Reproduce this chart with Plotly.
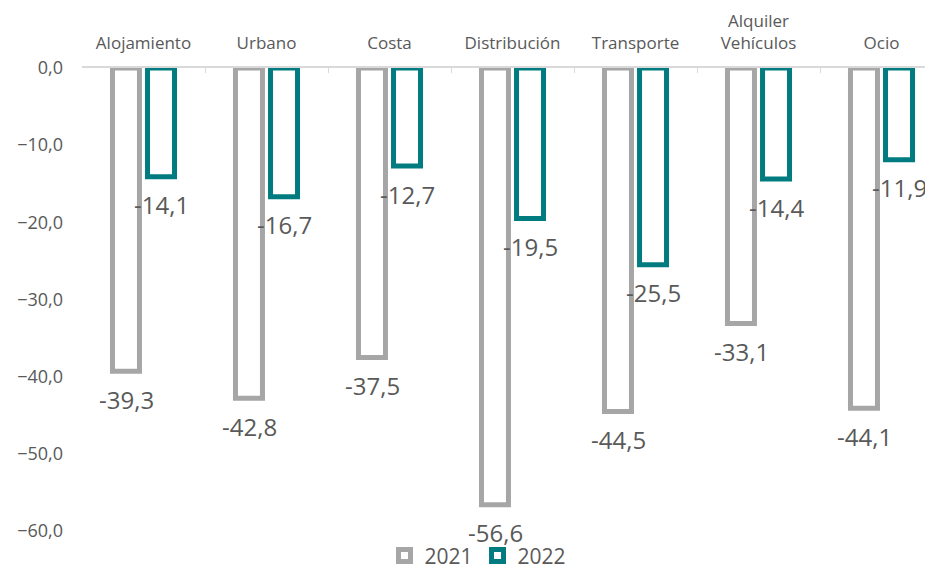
import plotly.graph_objects as go

categories = ["Alojamiento", "Urbano", "Costa", "Distribución", "Transporte", "Alquiler<br>Vehículos", "Ocio"]
values_2021 = [-39.3, -42.8, -37.5, -56.6, -44.5, -33.1, -44.1]
values_2022 = [-14.1, -16.7, -12.7, -19.5, -25.5, -14.4, -11.9]
y_ticks = [0, -10, -20, -30, -40, -50, -60]

GRAY = "#A6A6A6"
TEAL = "#007C80"
TXT = "#595959"
FONT = "Open Sans"

W, H = 933, 573
OFF = 8  # page body margin
left, top, bottom = 82 - OFF, 67.7 - OFF, 41.5 + OFF
right_edge = 943 - OFF  # plot area extends past the figure edge
cat_px = (right_edge - left) / 7
plot_h = H - top - bottom

fig = go.Figure()
series = [("2021", values_2021, GRAY, -17.5), ("2022", values_2022, TEAL, 17.5)]
for name, vals, col, dx in series:
    fig.add_trace(go.Bar(
        x=categories, y=vals, name=name,
        marker=dict(color="white", line=dict(color=col, width=5)),
        cliponaxis=False,
    ))
    for c, v in zip(categories, vals):
        fig.add_annotation(
            x=c, y=v, text=f"{v:.1f}".replace(".", ","),
            xshift=dx, yshift=-28, showarrow=False,
            xanchor="center", yanchor="middle",
            font=dict(size=24, color=TXT, family=FONT),
        )

fig.update_layout(
    width=W, height=H,
    margin=dict(l=left, r=0, t=top, b=bottom, pad=0, autoexpand=False),
    paper_bgcolor="white", plot_bgcolor="white",
    barmode="group", bargap=0.43, bargroupgap=0.23,
    separators=",.",
    font=dict(family=FONT, color=TXT, size=16),
    showlegend=True,
    legend=dict(orientation="h", xanchor="center", yanchor="bottom",
                x=(478 - OFF - left) / (W - left), y=-(bottom - OFF + 4) / plot_h,
                font=dict(size=21, color=TXT, family=FONT),
                itemwidth=30, tracegroupgap=0, bgcolor="rgba(0,0,0,0)"),
)
fig.update_xaxes(
    side="top", showline=True, linecolor="#D9D9D9", linewidth=2,
    ticks="inside", tickson="boundaries", ticklen=5, tickcolor="#D9D9D9",
    tickfont=dict(size=17, color=TXT, family=FONT),
    range=[-0.5, 6.5 - (right_edge - W) / cat_px],
    showgrid=False, zeroline=False, automargin=False, ticklabelstandoff=10,
)
fig.update_yaxes(
    range=[-60, 0], tickvals=y_ticks, tickformat=".1f",
    showgrid=False, zeroline=False, showline=False,
    tickfont=dict(size=18, color=TXT, family=FONT),
    ticklabelstandoff=18, automargin=False,
)
fig.write_html("out.html")
